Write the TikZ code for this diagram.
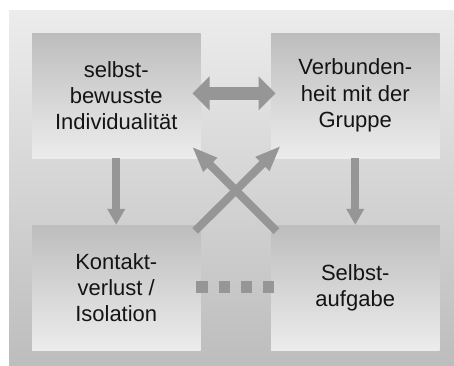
\documentclass[tikz,border=0pt]{standalone}
\usepackage{fontspec}
\setmainfont{Liberation Sans}
\usetikzlibrary{arrows.meta}
\definecolor{arr}{HTML}{969696}
\definecolor{lite}{HTML}{ECECEC}
\definecolor{dark}{HTML}{BDBDBD}
\tikzset{
  box/.style={minimum width=168.5pt, minimum height=125pt, inner sep=0pt,
    top color=dark, bottom color=lite, align=center,
    font=\fontsize{22}{26.3}\selectfont, text=black!92},
  downarrow/.style={draw=arr, line width=8.3pt, -{Triangle[length=16pt,width=17pt]}},
  crossarrow/.style={draw=arr, line width=8pt, -{Triangle[length=26pt,width=18pt]}},
  bothArrow/.style={draw=arr, line width=12.7pt,
    {Triangle[length=17pt,width=33pt]}-{Triangle[length=17pt,width=33pt]}},
  dotline/.style={draw=arr, line width=11.5pt, dash pattern=on 11.5pt off 10.8pt}
}
\begin{document}
\begin{tikzpicture}[x=1pt,y=-1pt]
\useasboundingbox (0,0) rectangle (454,365);
\shade[top color=lite, bottom color=dark] (9,10) rectangle (454,365);
\node[box] (tl) at (116.25,95.5) {selbst-\\bewusste\\Individualität};
\node[box] (tr) at (355.25,95.5) {Verbunden-\\heit mit der\\Gruppe};
\node[box] (bl) at (116.25,287.5) {Kontakt-\\verlust /\\Isolation};
\node[box] (br) at (355.25,287.5) {Selbst-\\aufgabe};
\draw[bothArrow, shorten <=-8.2pt, shorten >=-4.7pt]
  ([yshift=2.2pt]tl.east) -- ([yshift=2.2pt]tr.west);
\draw[downarrow] (tl.south) -- (bl.north);
\draw[downarrow] (tr.south) -- (br.north);
\draw[crossarrow] ([shift={(-5.5pt,-6pt)}]bl.north east) -- ([shift={(10pt,12.5pt)}]tr.south west);
\draw[crossarrow] ([shift={(5.7pt,-6.3pt)}]br.north west) -- ([shift={(-8.8pt,11.7pt)}]tl.south east);
\draw[dotline, shorten <=-4.5pt, shorten >=-3.5pt] ([yshift=0.5pt]bl.east) -- ([yshift=0.5pt]br.west);
\end{tikzpicture}
\end{document}
